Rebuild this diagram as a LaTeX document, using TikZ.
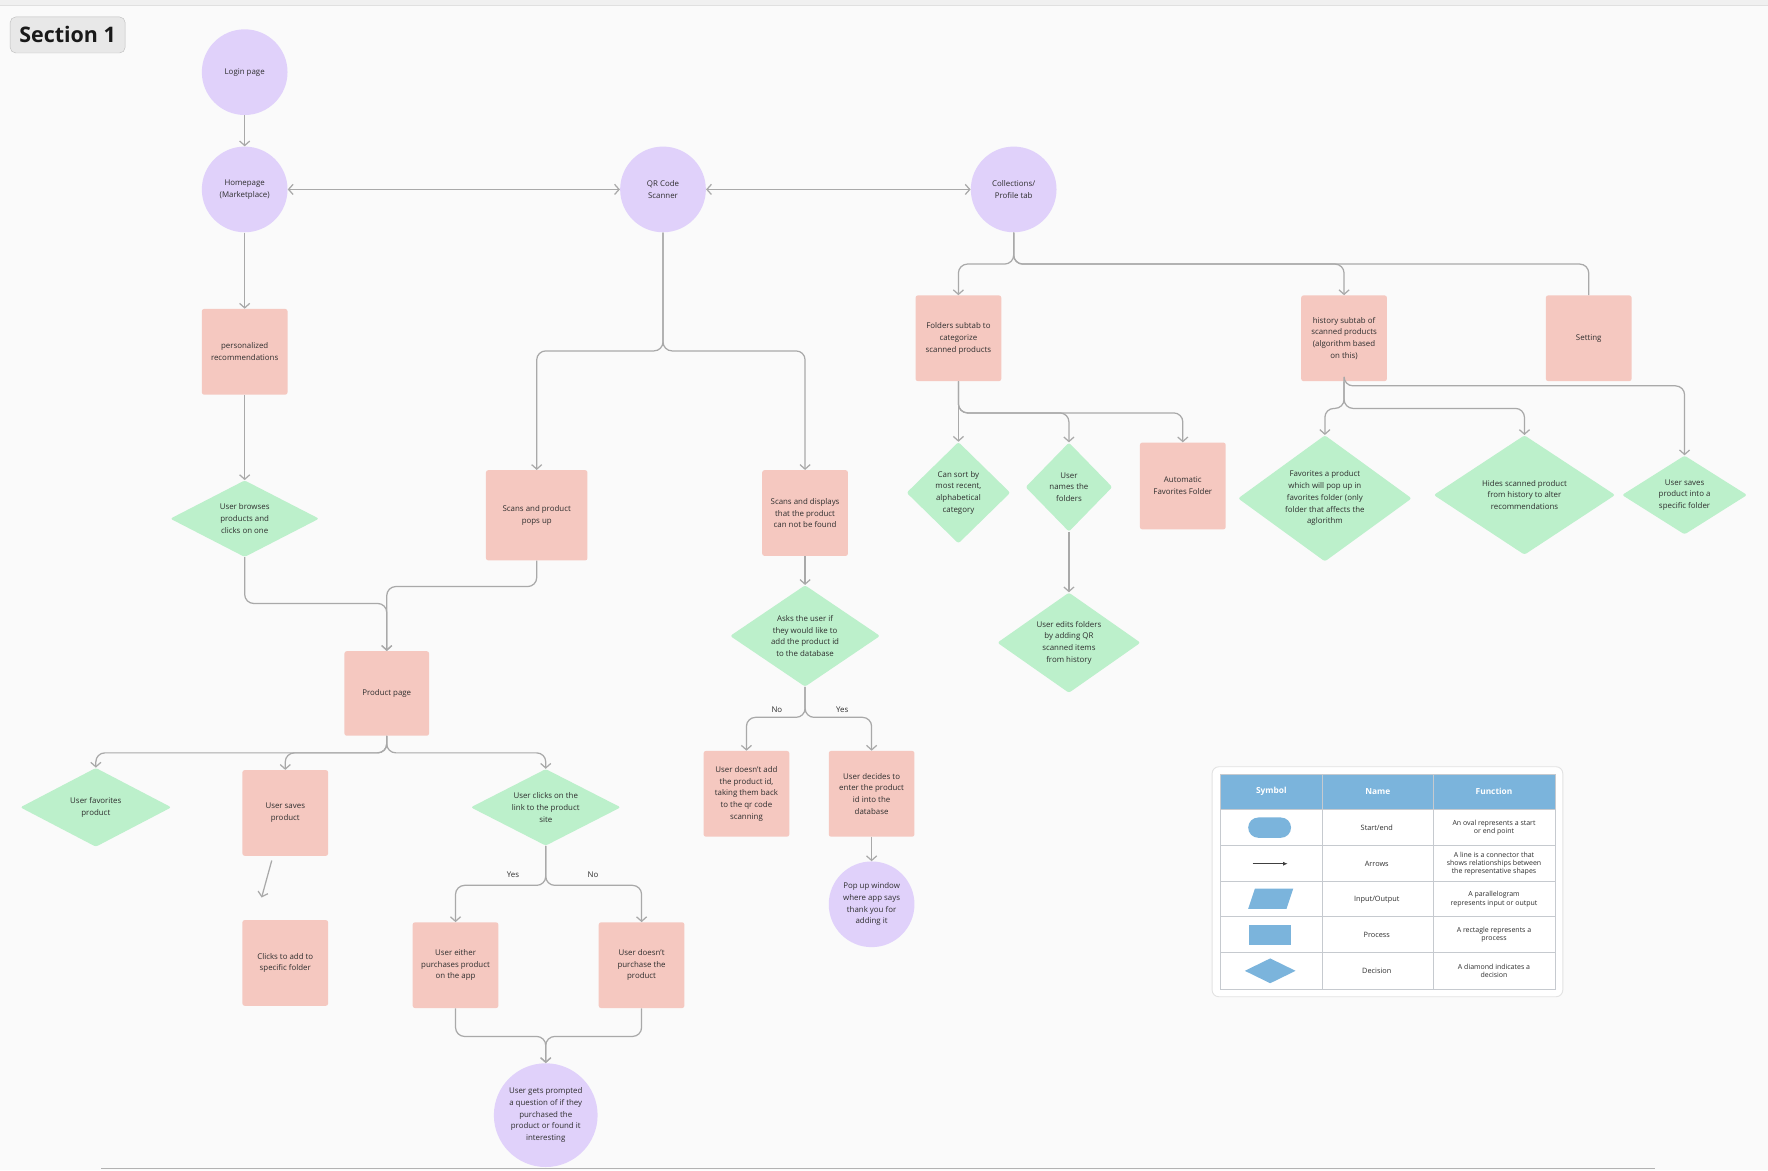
\documentclass[tikz,border=0pt]{standalone}
\usepackage{fontspec}
\setmainfont{Open Sans}
\usetikzlibrary{arrows.meta,shapes.geometric,calc}
\definecolor{bg}{HTML}{FAFAFA}
\definecolor{lav}{HTML}{E0D1FA}
\definecolor{pinkbox}{HTML}{F5C8C0}
\definecolor{mint}{HTML}{BCF0CB}
\definecolor{wire}{HTML}{A9A9A9}
\definecolor{ink}{HTML}{2E2E2E}
\definecolor{legblue}{HTML}{7BB4DC}
\definecolor{gridc}{HTML}{C6CACF}
\definecolor{legborder}{HTML}{E2E2E2}
\begin{document}
\begin{tikzpicture}[x=1pt,y=-1pt,
  every node/.style={text=ink},
  base/.style={font=\fontsize{7}{10.4}\selectfont, align=center, inner sep=0pt},
  term/.style={base, circle, fill=lav, minimum size=76pt},
  proc/.style={base, rectangle, rounded corners=2pt, fill=pinkbox, minimum width=76pt, minimum height=76pt},
  deci/.style={base, diamond, fill=mint, rounded corners=2pt},
  conn/.style={draw=wire, line width=1.1pt, rounded corners=8pt, -{Straight Barb[length=4pt,width=9pt]}},
  both/.style={draw=wire, line width=1.1pt, {Straight Barb[length=4pt,width=9pt]}-{Straight Barb[length=4pt,width=9pt]}},
  plainconn/.style={draw=wire, line width=1.1pt, rounded corners=8pt},
  lbl/.style={font=\fontsize{7}{8}\selectfont, inner sep=0pt},
  legname/.style={font=\fontsize{6.5}{7.5}\selectfont, inner sep=0pt},
  legfun/.style={font=\fontsize{6.2}{7.4}\selectfont, inner sep=0pt, align=center},
  leghead/.style={font=\fontsize{7.4}{8}\selectfont\bfseries, text=white, inner sep=0pt}
]
\useasboundingbox (0,0) rectangle (1568,1038);
\fill[bg] (0,0) rectangle (1568,1038);
\fill[black!6] (0,0) rectangle (1568,4);
\draw[black!12, line width=0.8pt] (0,4.5) -- (1568,4.5);
\draw[black!30, line width=1.2pt] (90,1036.5) -- (1468,1036.5);

% section label
\node[draw=black!25, fill=black!9, rounded corners=5pt, minimum width=102pt, minimum height=32pt,
      inner sep=0pt, font=\fontsize{19}{22}\selectfont\bfseries, text=black!90] (section) at (60,31) {Section 1};

% terminals
\node[term] (login) at (217,64) {Login page};
\node[term] (home) at (217,168) {Homepage\\(Marketplace)};
\node[term] (qr) at (588,168) {QR Code\\Scanner};
\node[term] (coll) at (899,168) {Collections/\\Profile tab};
\node[term] (thanks) at (773,802) {Pop up window\\where app says\\thank you for\\adding it};
\node[term, minimum size=92pt] (prompt) at (484,989) {User gets prompted\\a question of if they\\purchased the\\product or found it\\interesting};

% processes
\node[proc] (pers) at (217,312) {personalized\\recommendations};
\node[proc, minimum width=90pt, minimum height=80pt] (popsup) at (476,457) {Scans and product\\pops up};
\node[proc] (notfound) at (714,455) {Scans and displays\\that the product\\can not be found};
\node[proc] (noadd) at (662,704) {User doesn’t add\\the product id,\\taking them back\\to the qr code\\scanning};
\node[proc] (decides) at (773,704) {User decides to\\enter the product\\id into the\\database};
\node[proc, minimum width=75pt, minimum height=75pt] (product) at (343,615) {Product page};
\node[proc] (saves) at (253,721) {User saves\\product};
\node[proc] (addfolder) at (253,854) {Clicks to add to\\specific folder};
\node[proc] (buys) at (404,856) {User either\\purchases product\\on the app};
\node[proc] (nobuy) at (569,856) {User doesn’t\\purchase the\\product};
\node[proc] (folders) at (850,300) {Folders subtab to\\categorize\\scanned products};
\node[proc] (history) at (1192,300) {history subtab of\\scanned products\\(algorithm based\\on this)};
\node[proc] (setting) at (1409,300) {Setting};
\node[proc, minimum height=77pt] (autofav) at (1049,431) {Automatic\\Favorites Folder};

% decisions
\node[deci, minimum width=132pt, minimum height=68pt, aspect=1.94] (browse) at (217,460) {User browses\\products and\\clicks on one};
\node[deci, minimum width=133pt, minimum height=90pt, aspect=1.48] (asks) at (714,564) {Asks the user if\\they would like to\\add the product id\\to the database};
\node[deci, minimum width=134pt, minimum height=70pt, aspect=1.91] (fav) at (85,716) {User favorites\\product};
\node[deci, minimum width=133pt, minimum height=68pt, aspect=1.96] (link) at (484,716) {User clicks on the\\link to the product\\site};
\node[deci, minimum width=92pt, minimum height=90pt, aspect=1.02] (sort) at (850,437) {Can sort by\\most recent,\\alphabetical\\category};
\node[deci, minimum width=77pt, minimum height=79pt, aspect=0.97] (names) at (948,432) {User\\names the\\folders};
\node[deci, minimum width=127pt, minimum height=89pt, aspect=1.43] (edits) at (948,570) {User edits folders\\by adding QR\\scanned items\\from history};
\node[deci, minimum width=154pt, minimum height=112pt, aspect=1.375] (favalgo) at (1175,442) {Favorites a product\\which will pop up in\\favorites folder (only\\folder that affects the\\aglorithm};
\node[deci, minimum width=161pt, minimum height=106pt, aspect=1.52] (hides) at (1352,439) {Hides scanned product\\from history to alter\\recommendations};
\node[deci, minimum width=111pt, minimum height=70pt, aspect=1.59] (intofolder) at (1494,439) {User saves\\product into a\\specific folder};

% labels
\node[lbl] (no1) at (689,629) {No};
\node[lbl] (yes1) at (747,629) {Yes};
\node[lbl] (yes2) at (455,776) {Yes};
\node[lbl] (no2) at (526,776) {No};

% connectors
\draw[conn] (login) -- (home);
\draw[both] (home) -- (qr);
\draw[both] (qr) -- (coll);
\draw[conn] (home) -- (pers);
\draw[conn] (pers) -- (browse);
\draw[conn] (qr.south) -- ++(0,105) -| (popsup.north);
\draw[conn] (qr.south) -- ++(0,105) -| (notfound.north);
\draw[conn] (browse.south) -- ++(0,41) -| (product.north);
\draw[conn] (popsup.south) -- ++(0,23) -| (product.north);
\draw[conn] (product.south) -- ++(0,15) -| (fav.north);
\draw[conn] (product.south) -- ++(0,15) -| (saves.north);
\draw[conn] (product.south) -- ++(0,15) -| (link.north);
\coordinate (savesend) at (232,796);
\draw[conn] ([xshift=-12pt,yshift=-4pt]saves.south) -- (savesend);
\draw[conn] (link.south) -- ++(0,35) -| (buys.north);
\draw[conn] (link.south) -- ++(0,35) -| (nobuy.north);
\draw[conn] (buys.south) -- ++(0,25) -| (prompt.north);
\draw[conn] (nobuy.south) -- ++(0,25) -| (prompt.north);
\draw[conn] (notfound) -- (asks);
\draw[conn] (asks.south) -- ++(0,27) -| (noadd.north);
\draw[conn] (asks.south) -- ++(0,27) -| (decides.north);
\draw[conn] (decides) -- (thanks);
\draw[conn] (coll.south) -- ++(0,28) -| (folders.north);
\draw[conn] (coll.south) -- ++(0,28) -| (history.north);
\draw[plainconn] (coll.south) -- ++(0,28) -| (setting.north);
\draw[conn] (folders) -- (sort);
\draw[conn] (folders.south) -- ++(0,28) -| (names.north);
\draw[conn] (folders.south) -- ++(0,28) -| (autofav.north);
\draw[conn] (names) -- (edits);
\draw[conn] (history.south) -- ++(0,24) -| (favalgo.north);
\draw[conn] (history.south) -- ++(0,24) -| (hides.north);
\draw[conn] (history.south) -- ++(0,4) -| (intofolder.north);

% legend
\node[draw=legborder, fill=white, rounded corners=6pt, line width=0.8pt, minimum width=311pt, minimum height=204pt, inner sep=0pt] (legend) at (1230.5,782) {};
\fill[legblue] (1082,687) rectangle (1379,718);
\draw[gridc, line width=0.6pt] (1082,687) rectangle (1379,877);
\foreach \yy in {718,750,782,813,845} \draw[gridc, line width=0.6pt] (1082,\yy) -- (1379,\yy);
\draw[gridc, line width=0.6pt] (1173,687) -- (1173,877);
\draw[gridc, line width=0.6pt] (1271,687) -- (1271,877);
\node[leghead] (hsym) at (1127.5,702) {Symbol};
\node[leghead] (hname) at (1222,702) {Name};
\node[leghead] (hfun) at (1325,702) {Function};
\node[legname] (n1) at (1221,734) {Start/end};
\node[legname] (n2) at (1221,766) {Arrows};
\node[legname] (n3) at (1221,797.5) {Input/Output};
\node[legname] (n4) at (1221,829) {Process};
\node[legname] (n5) at (1221,861) {Decision};
\node[legfun] (f1) at (1325,734) {An oval represents a start\\or end point};
\node[legfun] (f2) at (1325,766) {A line is a connector that\\shows relationships between\\the representative shapes};
\node[legfun] (f3) at (1325,797.5) {A parallelogram\\represents input or output};
\node[legfun] (f4) at (1325,829) {A rectagle represents a\\process};
\node[legfun] (f5) at (1325,861) {A diamond indicates a\\decision};
\fill[legblue, rounded corners=9pt] (1107,725) rectangle (1145,743);
\draw[black!75, line width=0.7pt, -{Latex[length=4pt,width=3.5pt]}] (1111,766) -- (1142,766);
\fill[legblue] (1107,806) -- (1113,788) -- (1147,788) -- (1141,806) -- cycle;
\fill[legblue] (1108,820) rectangle (1145,838);
\fill[legblue] (1104,861) -- (1126.5,850) -- (1149,861) -- (1126.5,872) -- cycle;
\end{tikzpicture}
\end{document}
